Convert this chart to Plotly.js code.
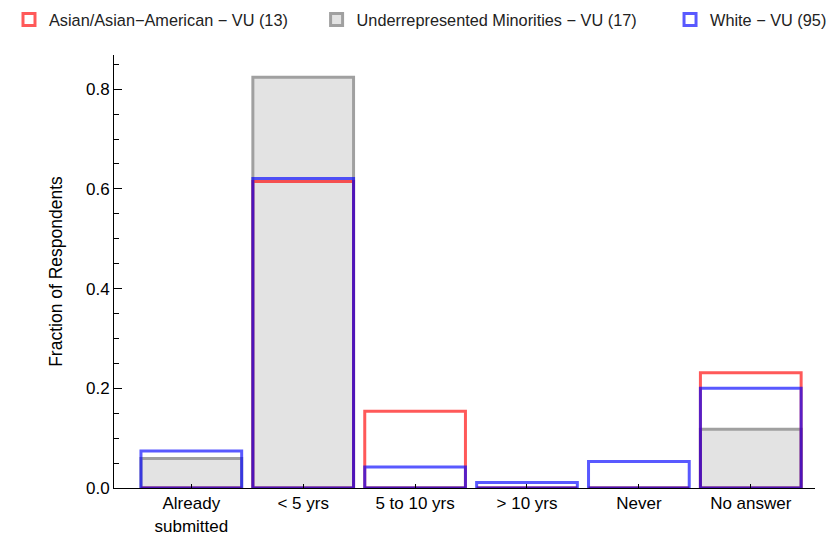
<!DOCTYPE html>
<html>
<head>
<meta charset="utf-8">
<script src="https://cdn.plot.ly/plotly-3.0.1.min.js"></script>
<style>html,body{margin:0;padding:0;background:#fff;}#chart{width:837px;height:542px;}</style>
</head>
<body>
<div id="chart"></div>
<script>
var categories = ['Already<br>submitted', '< 5 yrs', '5 to 10 yrs', '> 10 yrs', 'Never', 'No answer'];
var asianValues = [0, 0.615, 0.154, 0, 0, 0.231];
var urmValues = [0.059, 0.824, 0, 0, 0, 0.118];
var whiteValues = [0.074, 0.621, 0.042, 0.011, 0.053, 0.200];
var seriesNames = ['Asian/Asian\u2212American \u2212 VU (13)', 'Underrepresented Minorities \u2212 VU (17)', 'White \u2212 VU (95)'];
var yTickVals = [0, 0.2, 0.4, 0.6, 0.8];
var yTickText = ['0.0', '0.2', '0.4', '0.6', '0.8'];

var xs = categories.map(function (c, i) { return i; });
var FONT = 'Liberation Sans, Arial, sans-serif';

var traces = [
  {
    type: 'bar', x: xs, y: urmValues, name: seriesNames[1], width: 0.9,
    marker: { color: '#e3e3e3', line: { color: '#a0a0a0', width: 3 } },
    legend: 'legend2', hoverinfo: 'none'
  },
  {
    type: 'bar', x: xs, y: asianValues, name: seriesNames[0], width: 0.9,
    marker: { color: 'rgba(0,0,0,0)', line: { color: 'rgba(255,0,0,0.65)', width: 3 } },
    legend: 'legend', hoverinfo: 'none'
  },
  {
    type: 'bar', x: xs, y: whiteValues, name: seriesNames[2], width: 0.9,
    marker: { color: 'rgba(0,0,0,0)', line: { color: 'rgba(0,0,255,0.65)', width: 3 } },
    legend: 'legend3', hoverinfo: 'none'
  }
];

function legendAt(x) {
  return {
    x: x, xref: 'paper', xanchor: 'left',
    y: 1.081, yref: 'paper', yanchor: 'middle',
    orientation: 'h', bgcolor: 'rgba(0,0,0,0)',
    font: { family: FONT, size: 16.3, color: '#222' }
  };
}

var layout = {
  width: 837, height: 542,
  margin: { l: 114, r: 22, t: 55, b: 54, autoexpand: false },
  paper_bgcolor: '#fff', plot_bgcolor: '#fff',
  barmode: 'overlay',
  font: { family: FONT, size: 17, color: '#000' },
  showlegend: true,
  legend: legendAt(-0.1498),
  legend2: legendAt(0.289),
  legend3: legendAt(0.7932),
  xaxis: {
    range: [-0.691, 5.574],
    tickmode: 'array', tickvals: xs, ticktext: categories,
    ticks: 'inside', ticklen: 4, tickcolor: '#000', tickwidth: 1,
    showline: true, linecolor: '#000', linewidth: 1,
    showgrid: false, zeroline: false,
    tickfont: { family: FONT, size: 17, color: '#000' }
  },
  yaxis: {
    range: [0, 0.8685],
    tickmode: 'array', tickvals: yTickVals, ticktext: yTickText,
    ticks: 'inside', ticklen: 8, tickcolor: '#000', tickwidth: 1,
    minor: { dtick: 0.05, tick0: 0, ticks: 'inside', ticklen: 5, tickcolor: '#000', tickwidth: 1, showgrid: false },
    showline: true, linecolor: '#000', linewidth: 1,
    showgrid: false, zeroline: false,
    tickfont: { family: FONT, size: 17, color: '#000' },
    title: { text: 'Fraction of Respondents', font: { family: FONT, size: 17.5, color: '#000' }, standoff: 18 }
  }
};

Plotly.newPlot('chart', traces, layout, { displayModeBar: false, staticPlot: true });
</script>
</body>
</html>
